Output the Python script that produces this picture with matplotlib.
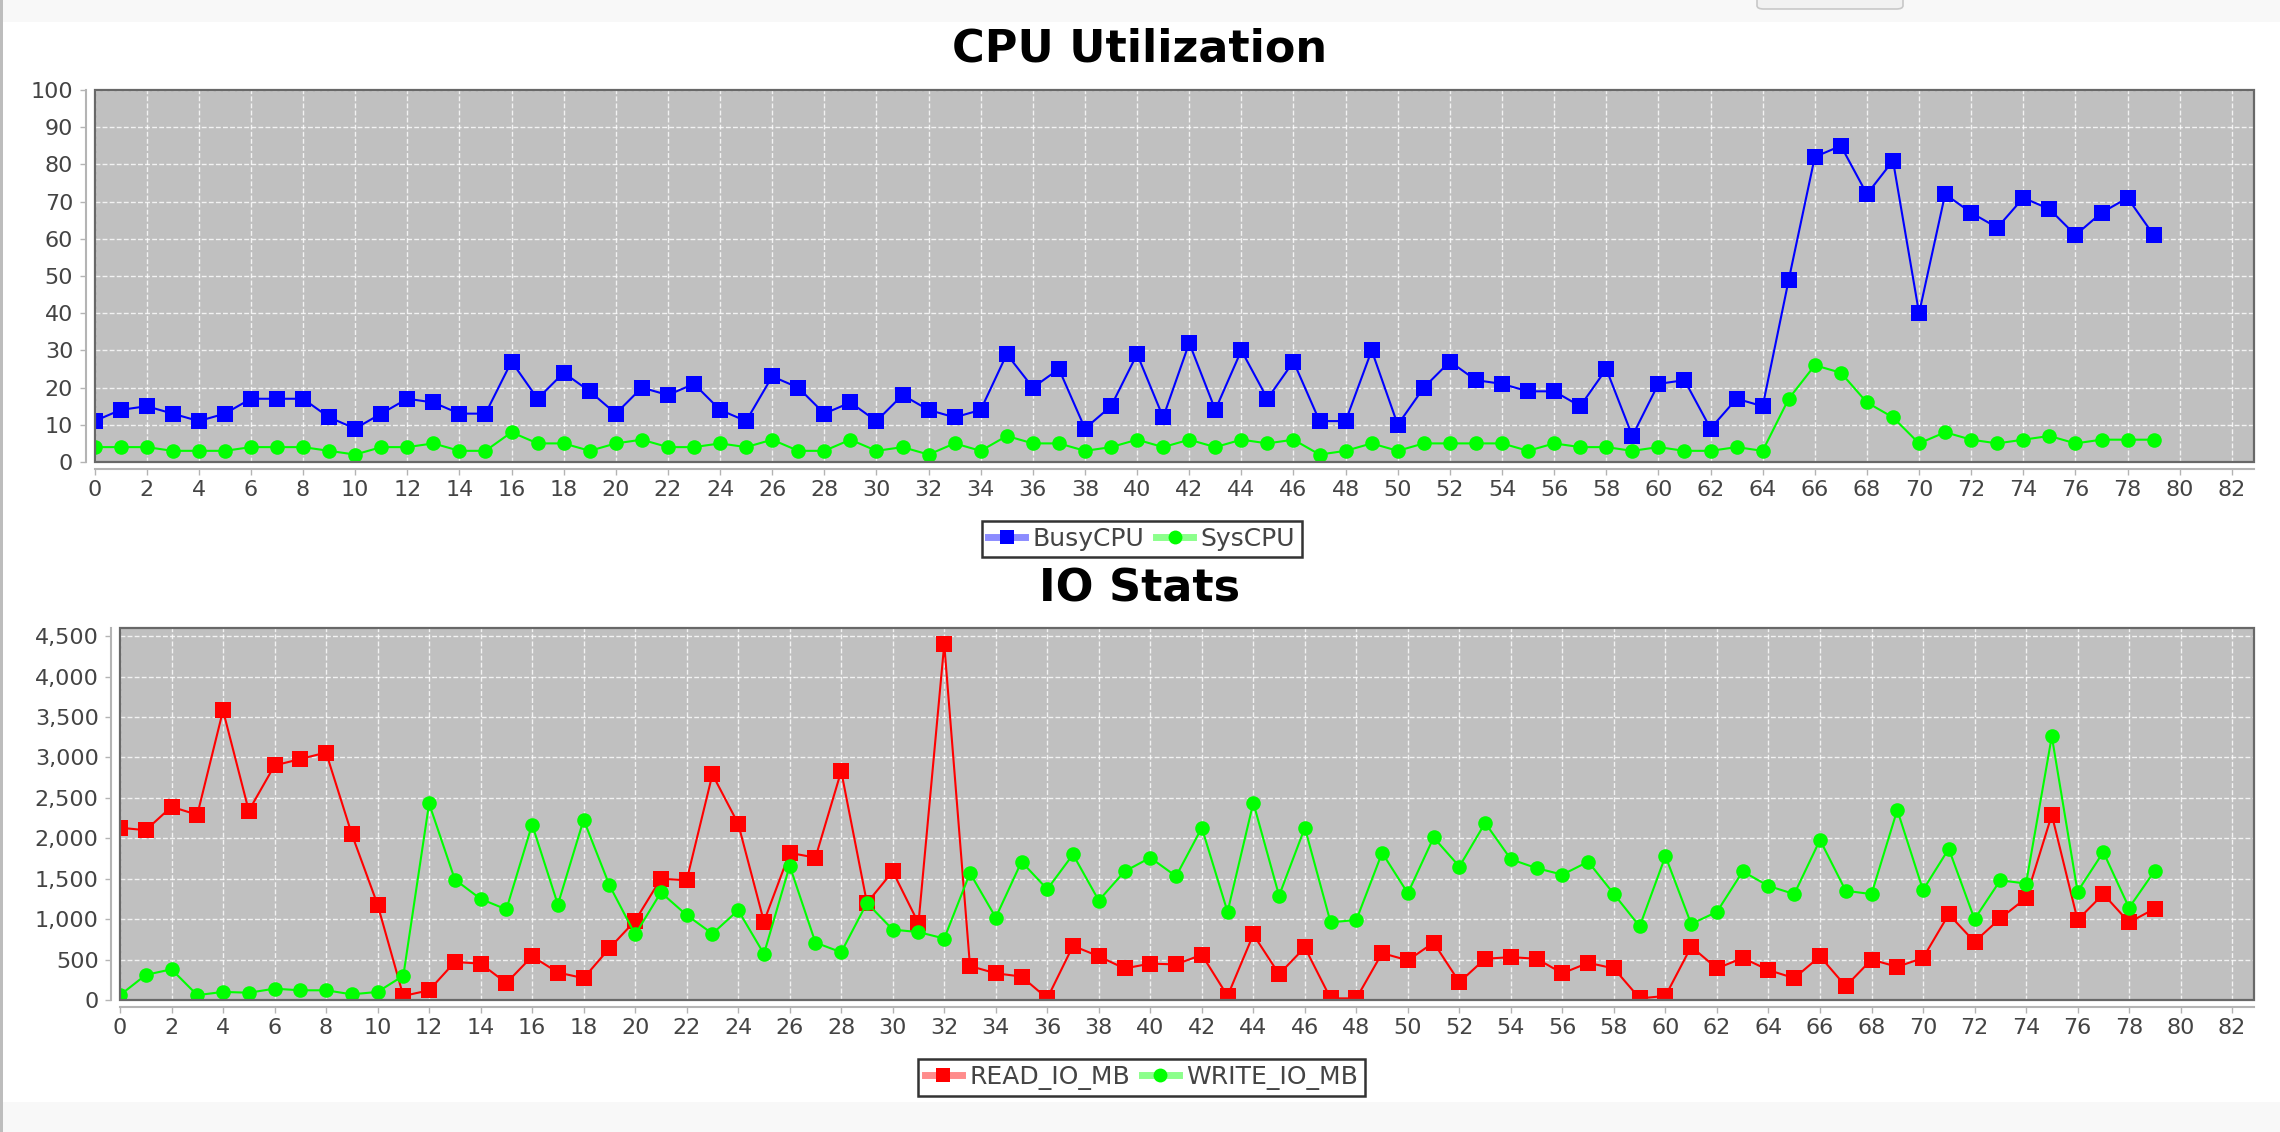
import matplotlib
matplotlib.use("Agg")
import matplotlib.pyplot as plt
from matplotlib.patches import Rectangle, FancyBboxPatch
from matplotlib.lines import Line2D
from matplotlib.ticker import MultipleLocator, FuncFormatter

# sample index (x axis)
samples = list(range(80))

# CPU Utilization
busy_cpu = [11, 14, 15, 13, 11, 13, 17, 17, 17, 12,
            9, 13, 17, 16, 13, 13, 27, 17, 24, 19,
            13, 20, 18, 21, 14, 11, 23, 20, 13, 16,
            11, 18, 14, 12, 14, 29, 20, 25, 9, 15,
            29, 12, 32, 14, 30, 17, 27, 11, 11, 30,
            10, 20, 27, 22, 21, 19, 19, 15, 25, 7,
            21, 22, 9, 17, 15, 49, 82, 85, 72, 81,
            40, 72, 67, 63, 71, 68, 61, 67, 71, 61]
sys_cpu = [4, 4, 4, 3, 3, 3, 4, 4, 4, 3,
           2, 4, 4, 5, 3, 3, 8, 5, 5, 3,
           5, 6, 4, 4, 5, 4, 6, 3, 3, 6,
           3, 4, 2, 5, 3, 7, 5, 5, 3, 4,
           6, 4, 6, 4, 6, 5, 6, 2, 3, 5,
           3, 5, 5, 5, 5, 3, 5, 4, 4, 3,
           4, 3, 3, 4, 3, 17, 26, 24, 16, 12,
           5, 8, 6, 5, 6, 7, 5, 6, 6, 6]

# IO Stats (MB)
read_io = [2130, 2100, 2390, 2290, 3580, 2340, 2900, 2980, 3060, 2050,
           1180, 50, 120, 470, 450, 210, 540, 340, 270, 640,
           980, 1500, 1480, 2790, 2180, 970, 1820, 1760, 2830, 1200,
           1590, 950, 4400, 420, 330, 290, 20, 670, 540, 390,
           450, 440, 560, 50, 810, 320, 650, 20, 20, 580,
           490, 710, 220, 510, 530, 510, 330, 460, 390, 20,
           50, 660, 390, 520, 370, 270, 540, 170, 500, 410,
           520, 1060, 720, 1010, 1260, 2290, 990, 1310, 960, 1130]
write_io = [60, 310, 380, 60, 100, 90, 140, 120, 120, 70,
            100, 300, 2430, 1490, 1250, 1120, 2170, 1180, 2230, 1420,
            810, 1330, 1050, 820, 1110, 570, 1660, 710, 590, 1200,
            870, 840, 760, 1570, 1020, 1710, 1370, 1800, 1230, 1590,
            1760, 1530, 2130, 1090, 2440, 1290, 2130, 960, 990, 1820,
            1320, 2010, 1650, 2190, 1740, 1630, 1550, 1710, 1310, 910,
            1780, 940, 1090, 1590, 1410, 1310, 1980, 1350, 1310, 2350,
            1360, 1870, 1000, 1480, 1440, 3260, 1340, 1830, 1140, 1600]

W, H = 2280, 1132
fig = plt.figure(figsize=(W / 100, H / 100), dpi=100)
fig.patch.set_facecolor("white")

# window chrome: top bar, bottom bar, left border
fig.patches.append(Rectangle((0, 1 - 22 / H), 1, 22 / H, transform=fig.transFigure,
                             facecolor="#f8f8f8", edgecolor="none", zorder=0))
fig.patches.append(Rectangle((0, 0), 1, 30 / H, transform=fig.transFigure,
                             facecolor="#f8f8f8", edgecolor="none", zorder=0))
fig.patches.append(FancyBboxPatch((1757 / W, 1 - 9 / H), 146 / W, 20 / H,
                                  boxstyle="round,pad=0,rounding_size=0.003",
                                  transform=fig.transFigure, facecolor="#f1f1f1",
                                  edgecolor="#c8c8c8", lw=1.2, zorder=1))
fig.patches.append(Rectangle((0, 0), 2.5 / W, 1, transform=fig.transFigure,
                             facecolor="#bdbdbd", edgecolor="none", zorder=2))

ax1 = fig.add_axes([94.5 / W, 1 - 462 / H, (2254 - 94.5) / W, 372 / H])
ax2 = fig.add_axes([120 / W, 1 - 1000 / H, (2254 - 120) / W, 372 / H])


def style_axes(ax):
    ax.set_facecolor("#c0c0c0")
    ax.spines["top"].set_visible(False)
    ax.spines["right"].set_visible(False)
    ax.spines["left"].set_position(("outward", 6.3))
    ax.spines["bottom"].set_position(("outward", 5))
    for s in ("left", "bottom"):
        ax.spines[s].set_color("#b4b4b4")
        ax.spines[s].set_linewidth(1.5)
    ax.add_patch(Rectangle((0, 0), 1, 1, transform=ax.transAxes, fill=False,
                           ec="#686868", lw=1.6, clip_on=False, zorder=6))
    ax.tick_params(direction="out", length=4, width=1, color="#b4b4b4",
                   labelsize=16, labelcolor="#444444")
    ax.tick_params(axis="x", pad=4)
    ax.tick_params(axis="y", pad=5)
    ax.grid(True, color="white", linestyle=(0, (3.5, 1.6)), linewidth=1, alpha=0.8)
    ax.set_axisbelow(True)
    ax.set_xlim(0, 82.85)
    ax.xaxis.set_major_locator(MultipleLocator(2))


# CPU chart
ax1.plot(samples, busy_cpu, color="#0000ff", lw=1.5, marker="s", ms=11, mew=0)
ax1.plot(samples, sys_cpu, color="#00ff00", lw=1.5, marker="o", ms=10.5, mew=0)
style_axes(ax1)
ax1.set_ylim(0, 100)
ax1.yaxis.set_major_locator(MultipleLocator(10))

# IO chart
ax2.plot(samples, read_io, color="#ff0000", lw=1.5, marker="s", ms=11, mew=0)
ax2.plot(samples, write_io, color="#00ff00", lw=1.5, marker="o", ms=10.5, mew=0)
style_axes(ax2)
ax2.set_ylim(0, 4600)
ax2.yaxis.set_major_locator(MultipleLocator(500))
ax2.yaxis.set_major_formatter(FuncFormatter(lambda v, p: f"{int(v):,}"))

# titles
fig.text(0.5, 1 - 62 / H, "CPU Utilization", ha="center", va="baseline",
         fontsize=32, fontweight="bold")
fig.text(0.5, 1 - 602 / H, "IO Stats", ha="center", va="baseline",
         fontsize=32, fontweight="bold")


def handle(color, marker):
    return (Line2D([], [], color=color, lw=5, alpha=0.45),
            Line2D([], [], color=color, marker=marker, ls="none", ms=10, mew=0))


def add_legend(handles, labels, y):
    leg = fig.legend(handles, labels, loc="center", bbox_to_anchor=(0.5007, y),
                     ncol=2, fontsize=18, frameon=True, fancybox=False,
                     edgecolor="black", handlelength=1.5, handletextpad=0.3,
                     columnspacing=0.45, borderpad=0.25, borderaxespad=0)
    leg.get_frame().set_linewidth(1.8)
    for t in leg.get_texts():
        t.set_color("#444444")


add_legend([handle("#0000ff", "s"), handle("#00ff00", "o")],
           ["BusyCPU", "SysCPU"], 1 - 539 / H)
add_legend([handle("#ff0000", "s"), handle("#00ff00", "o")],
           ["READ_IO_MB", "WRITE_IO_MB"], 1 - 1077.5 / H)

fig.savefig("out.png", dpi=100)
